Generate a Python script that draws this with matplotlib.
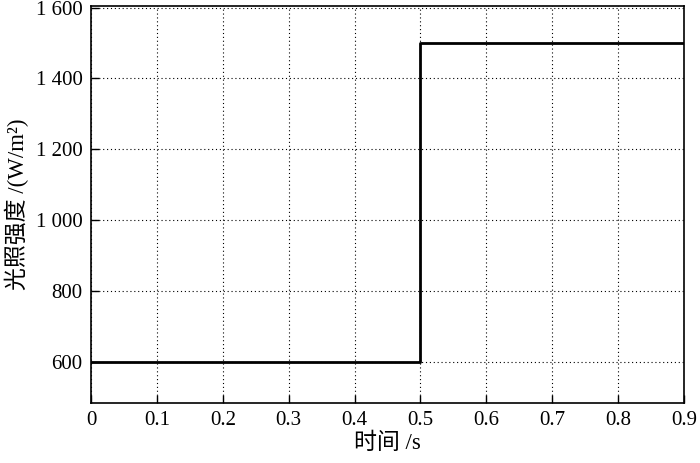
import matplotlib
matplotlib.use("Agg")
import matplotlib.pyplot as plt
from matplotlib.ticker import FuncFormatter

plt.rcParams['font.family'] = ['Liberation Serif', 'Noto Sans CJK SC']

# Data
time = [0.0, 0.5, 0.5, 0.9]
irradiance = [600, 600, 1500, 1500]
xticks = [0, 0.1, 0.2, 0.3, 0.4, 0.5, 0.6, 0.7, 0.8, 0.9]
yticks = [600, 800, 1000, 1200, 1400, 1600]

fig = plt.figure(figsize=(7, 4.63), dpi=100)
ax = fig.add_axes([0.13, 0.1296, 0.847, 0.858])
ax.plot(time, irradiance, color='black', lw=2)
ax.set_xlim(0, 0.9)
ax.set_ylim(485, 1605)
ax.set_xticks(xticks)
ax.set_yticks(yticks)

def xfmt(v, p):
    return '0' if abs(v) < 1e-9 else f'{v:.1f}'

def yfmt(v, p):
    v = int(round(v))
    if v >= 1000:
        return f'{v // 1000} {v % 1000:03d}'
    return str(v)

ax.xaxis.set_major_formatter(FuncFormatter(xfmt))
ax.yaxis.set_major_formatter(FuncFormatter(yfmt))
ax.tick_params(direction='in', length=6, width=1, labelsize=15, pad=6, colors='black')
ax.grid(True, linestyle=(0, (1, 2.5)), color='black', lw=0.8)
for s in ax.spines.values():
    s.set_linewidth(1.2)
ax.set_xlabel('时间 /s', fontsize=16.5, labelpad=2)
ax.set_ylabel('光照强度 /(W/m²)', fontsize=16.5, labelpad=5)
fig.savefig('out.png', dpi=100)
